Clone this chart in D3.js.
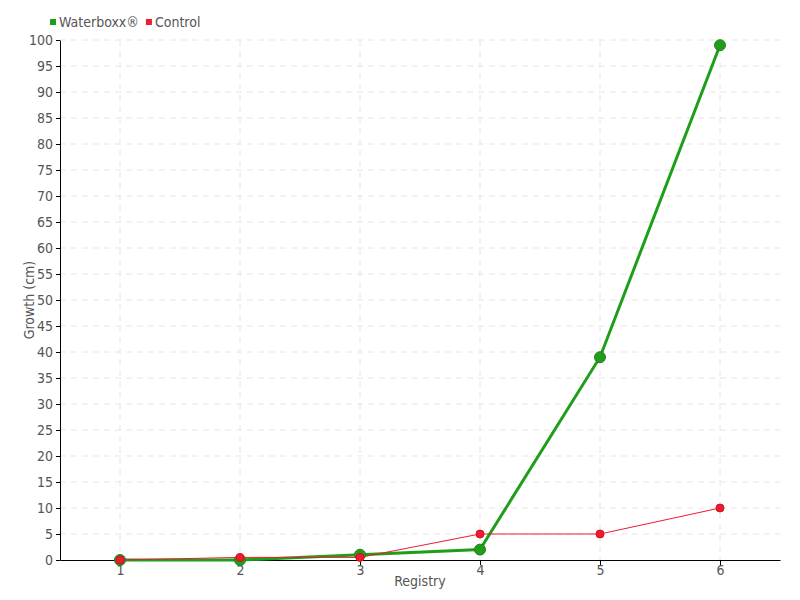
<!DOCTYPE html>
<html><head><meta charset="utf-8">
<script src="https://cdn.jsdelivr.net/npm/d3@7"></script>
<style>body{margin:0;background:#fff}text{font-family:"DejaVu Sans Condensed","DejaVu Sans",sans-serif;}</style>
</head><body><svg id="c" width="800" height="600"></svg>
<script>
const categories = [1, 2, 3, 4, 5, 6];
const waterboxx = [0, 0, 1, 2, 39, 99];
const control = [0, 0.5, 0.5, 5, 5, 10];
const yTicks = d3.range(0, 101, 5);
const seriesNames = ["Waterboxx®", "Control"];
const colors = ["#1f9e1a", "#ee1c2e"];

const svg = d3.select("#c");
const m = {l: 60, r: 20, t: 40, b: 40};
const W = 800, H = 600;
const x = d3.scalePoint().domain(categories).range([m.l, W - m.r]).padding(0.5);
const y = d3.scaleLinear().domain([0, 100]).range([H - m.b, m.t]);

const grid = svg.append("g");
grid.selectAll(".h").data(yTicks.filter(d => d > 0)).join("line")
  .attr("x1", m.l).attr("x2", W - m.r).attr("y1", d => y(d)).attr("y2", d => y(d))
  .attr("stroke", "#e6e6e6").attr("stroke-dasharray", "6,5");
grid.selectAll(".v").data(categories).join("line")
  .attr("x1", d => x(d)).attr("x2", d => x(d)).attr("y1", m.t).attr("y2", H - m.b)
  .attr("stroke", "#e6e6e6").attr("stroke-dasharray", "6,5");

const yAxis = svg.append("g").attr("transform", `translate(${m.l},0)`)
  .call(d3.axisLeft(y).tickValues(yTicks).tickSize(4).tickSizeOuter(0));
const xAxis = svg.append("g").attr("transform", `translate(0,${H - m.b})`)
  .call(d3.axisBottom(x).tickSize(5).tickSizeOuter(0));
[yAxis, xAxis].forEach(a => {
  a.select(".domain").attr("stroke", "#000");
  a.selectAll(".tick line").attr("stroke", "#000");
  a.selectAll("text").attr("fill", "#555").style("font-size", "14px");
});
xAxis.selectAll("text").attr("dy", "0.5em");

svg.append("text").attr("x", (m.l + W - m.r) / 2).attr("y", 586).attr("text-anchor", "middle")
  .attr("fill", "#555").style("font-size", "14px").text("Registry");
svg.append("text").attr("transform", `translate(34,${(m.t + H - m.b) / 2}) rotate(-90)`).attr("text-anchor", "middle")
  .attr("fill", "#555").style("font-size", "14px").text("Growth (cm)");

const line = d3.line().x((d, i) => x(categories[i])).y(d => y(d));
const data = [waterboxx, control];
const widths = [3, 1];
const radii = [5.5, 4];
data.forEach((s, k) => {
  svg.append("path").datum(s).attr("d", line).attr("fill", "none")
    .attr("stroke", colors[k]).attr("stroke-width", widths[k]);
  svg.append("g").selectAll("circle").data(s).join("circle")
    .attr("cx", (d, i) => x(categories[i])).attr("cy", d => y(d)).attr("r", radii[k])
    .attr("fill", colors[k]).attr("stroke", k === 0 ? "#2a7a22" : "#d01020").attr("stroke-width", 1);
});

const leg = svg.append("g");
let lx = 50;
seriesNames.forEach((n, k) => {
  leg.append("rect").attr("x", lx).attr("y", 19).attr("width", 6).attr("height", 6).attr("fill", colors[k]);
  const t = leg.append("text").attr("x", lx + 9).attr("y", 27).attr("fill", "#555").style("font-size", "14px").text(n);
  lx += 9 + t.node().getComputedTextLength() + 7;
});
</script></body></html>
